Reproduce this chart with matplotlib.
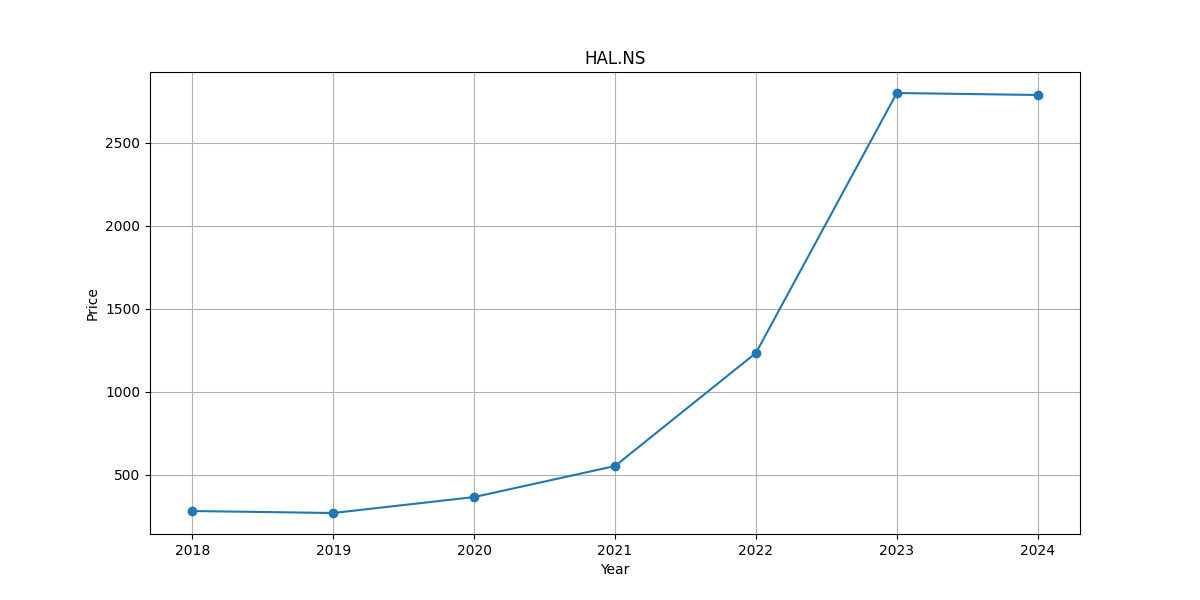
import matplotlib
matplotlib.use("Agg")
import matplotlib.pyplot as plt

years = [2018, 2019, 2020, 2021, 2022, 2023, 2024]
prices = [283, 271, 367, 554, 1235, 2801, 2789]

fig, ax = plt.subplots(figsize=(12, 6), dpi=100)
ax.plot(years, prices, marker="o")
ax.set_title("HAL.NS")
ax.set_xlabel("Year")
ax.set_ylabel("Price")
ax.grid(True)
fig.savefig("out.png")
